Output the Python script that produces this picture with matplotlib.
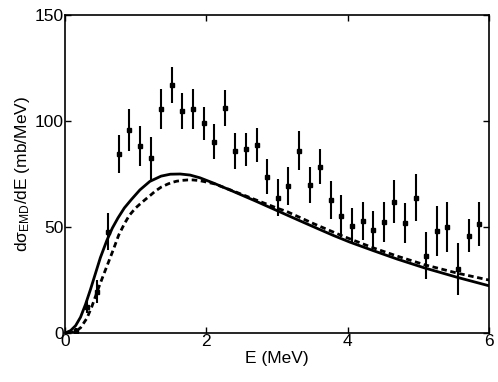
import matplotlib
matplotlib.use("Agg")
import matplotlib.pyplot as plt

plt.rcParams['font.family'] = ['Liberation Sans', 'DejaVu Sans']
plt.rcParams['mathtext.default'] = 'regular'

# experimental data
E_data = [0.16, 0.31, 0.46, 0.61, 0.76, 0.91, 1.06, 1.21, 1.36, 1.51, 1.66, 1.81, 1.96,
          2.11, 2.26, 2.41, 2.56, 2.71, 2.86, 3.01, 3.16, 3.31, 3.46, 3.61, 3.76, 3.91,
          4.06, 4.21, 4.36, 4.51, 4.66, 4.81, 4.96, 5.11, 5.26, 5.41, 5.56, 5.71, 5.86]
y_data = [1.0, 12.4, 19.5, 47.8, 84.4, 95.8, 88.4, 82.4, 105.7, 117.0, 104.7, 105.7, 98.9,
          90.2, 106.0, 85.8, 86.6, 88.7, 73.7, 63.8, 69.5, 86.0, 69.8, 78.5, 62.7, 55.2,
          50.5, 53.0, 48.6, 52.5, 61.9, 51.7, 63.8, 36.5, 48.3, 50.2, 30.2, 45.9, 51.4]
y_err = [1.5, 3.0, 5.5, 8.6, 9.0, 10.0, 9.4, 10.0, 9.4, 8.6, 8.5, 9.3, 7.9,
         8.3, 8.5, 8.3, 7.9, 8.1, 8.2, 8.8, 9.0, 9.2, 8.3, 8.2, 8.9, 9.7,
         8.6, 8.9, 8.9, 9.5, 10.2, 9.4, 11.0, 11.2, 11.8, 11.8, 12.2, 7.9, 10.2]

# solid curve
E_solid = [0.0, 0.08, 0.15, 0.22, 0.29, 0.36, 0.43, 0.5, 0.59, 0.67, 0.75, 0.84, 0.94,
           1.06, 1.2, 1.36, 1.49, 1.63, 1.77, 1.91, 2.11, 2.38, 2.7, 3.01, 3.32, 3.6,
           3.8, 4.03, 4.36, 4.7, 5.09, 5.56, 6.0]
y_solid = [0.0, 1.2, 3.5, 7.5, 13.5, 20.5, 28.0, 35.5, 43.5, 49.5, 54.3, 59.0, 63.0,
           67.5, 71.5, 74.0, 74.9, 75.0, 74.5, 73.2, 70.6, 66.8, 62.2, 57.6, 53.0, 48.9,
           46.0, 42.9, 38.9, 34.9, 30.7, 26.2, 22.3]

# dashed curve
E_dash = [0.05, 0.14, 0.22, 0.31, 0.38, 0.46, 0.54, 0.61, 0.68, 0.76, 0.84, 0.91, 1.0,
          1.06, 1.13, 1.21, 1.28, 1.36, 1.45, 1.51, 1.58, 1.66, 1.74, 1.81, 1.9, 1.96,
          2.11, 2.38, 2.7, 3.01, 3.14, 3.51, 3.94, 4.36, 4.7, 5.09, 5.56, 6.0]
y_dash = [0.0, 0.6, 2.5, 7.0, 12.5, 20.0, 27.0, 33.0, 39.0, 46.2, 51.5, 55.5, 59.0,
          60.8, 62.8, 65.0, 67.0, 68.8, 70.2, 71.0, 71.6, 72.0, 72.2, 72.2, 71.9, 71.5,
          70.4, 67.0, 62.8, 58.8, 57.3, 51.7, 45.6, 40.2, 36.3, 32.2, 28.2, 25.0]

fig = plt.figure(figsize=(4.98, 3.82), dpi=100)
ax = fig.add_axes([0.1305, 0.128, 0.8515, 0.833])

ax.plot(E_solid, y_solid, color='black', lw=2.0, solid_capstyle='round')
ax.plot(E_dash, y_dash, color='black', lw=2.0, linestyle=(0, (2.0, 1.3)))
ax.errorbar(E_data, y_data, yerr=y_err, fmt='s', color='black', ms=2.5,
            elinewidth=1.5, capsize=0)

ax.set_xlim(0, 6)
ax.set_ylim(0, 150)
ax.set_xticks([0, 2, 4, 6])
ax.set_yticks([0, 50, 100, 150])
ax.tick_params(direction='in', length=4, width=1, top=True, right=True, labelsize=12.5, pad=1)
for s in ax.spines.values():
    s.set_linewidth(1.2)
ax.set_xlabel('E (MeV)', fontsize=12.5, labelpad=1)
ax.set_ylabel('dσ$_{EMD}$/dE (mb/MeV)', fontsize=12.5, labelpad=2)

fig.savefig('out.png', dpi=100)
